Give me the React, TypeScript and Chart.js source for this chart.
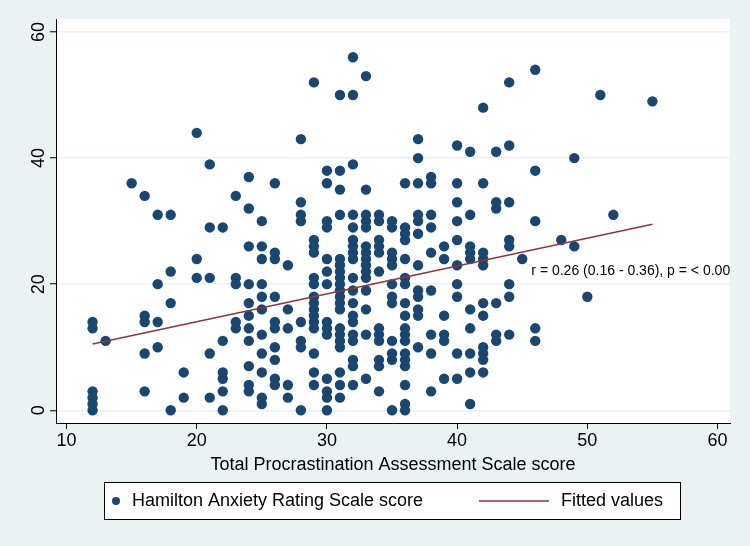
import React, { useEffect, useRef } from "react";
import { Chart, registerables } from "chart.js";

Chart.register(...registerables);

// Total Procrastination Assessment Scale score (x columns)
const pasScores = [
  12, 13, 15, 16, 17, 18, 19, 20, 21, 22, 23, 24, 25, 26, 27, 28, 29, 30, 31, 32,
  33, 34, 35, 36, 37, 38, 39, 40, 41, 42, 43, 44, 45, 46, 48, 49, 50, 51, 52, 55,
];

// Hamilton Anxiety Rating Scale scores for each PAS column
const hamaByPas = [
  [14, 13, 3, 2, 1, 0],
  [11],
  [36],
  [34, 15, 14, 9, 3],
  [31, 20, 14, 10],
  [31, 22, 17, 0],
  [6, 2],
  [44, 24, 21],
  [39, 29, 21, 9, 2],
  [29, 11, 6, 5, 3, 0],
  [34, 21, 20, 14, 13],
  [37, 32, 26, 20, 17, 15, 13, 11, 7, 4, 3],
  [30, 26, 24, 20, 18, 16, 12, 9, 6, 2, 1],
  [36, 25, 24, 18, 14, 13, 10, 8, 5, 4],
  [23, 16, 13, 4, 2],
  [43, 33, 31, 30, 14, 11, 10, 0],
  [52, 27, 26, 25, 21, 20, 18, 17, 16, 15, 14, 13, 9, 6, 4],
  [38, 36, 30, 29, 24, 22, 20, 14, 13, 12, 5, 3, 2, 0],
  [50, 38, 35, 31, 24, 23, 22, 21, 20, 19, 18, 17, 16, 13, 12, 11, 10, 6, 4, 2],
  [56, 50, 39, 31, 29, 27, 26, 25, 24, 21, 19, 17, 15, 14, 12, 11, 8, 7, 4],
  [53, 35, 31, 30, 29, 26, 25, 24, 23, 22, 21, 19, 16, 12, 5],
  [31, 30, 27, 26, 25, 22, 13, 12, 11, 8, 7, 3],
  [30, 29, 25, 24, 23, 20, 18, 17, 11, 9, 8, 0],
  [36, 29, 28, 27, 24, 21, 20, 17, 15, 13, 12, 11, 9, 8, 7, 4, 1, 0],
  [43, 40, 36, 31, 30, 28, 23, 19, 18, 16, 15, 10],
  [37, 36, 31, 29, 25, 19, 12, 9, 3],
  [26, 24, 15, 12, 11, 5],
  [42, 36, 33, 30, 27, 23, 20, 18, 9, 5],
  [41, 31, 26, 25, 24, 16, 13, 9, 6, 1],
  [48, 36, 25, 24, 23, 17, 15, 10, 9, 8, 6],
  [41, 33, 32, 17, 12, 11],
  [52, 42, 33, 27, 26, 20, 18, 12],
  [24],
  [54, 38, 30, 13, 11],
  [27],
  [40, 26],
  [18],
  [50],
  [31],
  [49],
];

// Fitted values (linear fit end points)
const fitX = [12, 55];
const fitY = [10.5, 29.5];

const xTicks = [10, 20, 30, 40, 50, 60];
const yTicks = [0, 20, 40, 60];

const xTitle = "Total Procrastination Assessment Scale score";
const scatterLabel = "Hamilton Anxiety Rating Scale score";
const fitLabel = "Fitted values";
const annotationText = "r = 0.26 (0.16 - 0.36), p = < 0.00";
const annotationAt = { x: 45.7, y: 22.05 };

const NAVY = "#1A476F";
const MAROON = "#90353B";
const BG = "#EAF2F3";
const FONT = "'Liberation Sans', Arial, Helvetica, sans-serif";

export default function App() {
  const ref = useRef<HTMLCanvasElement>(null);

  useEffect(() => {
    document.body.style.margin = "0";
    const canvas = ref.current;
    if (!canvas) return;

    const points: { x: number; y: number }[] = [];
    pasScores.forEach((x, i) => {
      hamaByPas[i].forEach((y) => points.push({ x, y }));
    });
    const fitPoints = fitX.map((x, i) => ({ x, y: fitY[i] }));

    const stataPlugin = {
      id: "stata",
      beforeDraw(chart: any) {
        const { ctx, chartArea } = chart;
        ctx.save();
        ctx.fillStyle = BG;
        ctx.fillRect(0, 0, chart.width, chart.height);
        ctx.fillStyle = "#FFFFFF";
        ctx.fillRect(
          chartArea.left,
          chartArea.top,
          chartArea.right - chartArea.left,
          chartArea.bottom - chartArea.top
        );
        ctx.restore();
      },
      afterDraw(chart: any) {
        const { ctx, chartArea } = chart;
        const ys = chart.scales.y;
        const xs = chart.scales.x;
        // rotated y tick labels
        ctx.save();
        ctx.fillStyle = "#000";
        ctx.font = `18px ${FONT}`;
        ctx.textAlign = "center";
        ctx.textBaseline = "middle";
        ys.ticks.forEach((t: any) => {
          const py = ys.getPixelForValue(t.value);
          ctx.save();
          ctx.translate(39, py);
          ctx.rotate(-Math.PI / 2);
          ctx.fillText(String(t.value), 0, 0);
          ctx.restore();
        });
        ctx.restore();

        // annotation text (clipped to plot region)
        ctx.save();
        ctx.beginPath();
        ctx.rect(
          chartArea.left,
          chartArea.top,
          chartArea.right - chartArea.left,
          chartArea.bottom - chartArea.top
        );
        ctx.clip();
        ctx.fillStyle = "#000";
        ctx.font = `14px ${FONT}`;
        ctx.textAlign = "left";
        ctx.textBaseline = "middle";
        ctx.fillText(
          annotationText,
          xs.getPixelForValue(annotationAt.x),
          ys.getPixelForValue(annotationAt.y)
        );
        ctx.restore();

        // legend box
        ctx.save();
        const lx = 104,
          ly = 482,
          lw = 576,
          lh = 37;
        ctx.fillStyle = "#FFFFFF";
        ctx.fillRect(lx, ly, lw, lh);
        ctx.strokeStyle = "#000";
        ctx.lineWidth = 1;
        ctx.strokeRect(lx + 0.5, ly + 0.5, lw, lh);
        const cy = ly + lh / 2 + 0.5;
        ctx.fillStyle = NAVY;
        ctx.beginPath();
        ctx.arc(116, cy, 4, 0, Math.PI * 2);
        ctx.fill();
        ctx.fillStyle = "#000";
        ctx.font = `18px ${FONT}`;
        ctx.textAlign = "left";
        ctx.textBaseline = "middle";
        ctx.fillText(scatterLabel, 132, cy);
        ctx.strokeStyle = MAROON;
        ctx.lineWidth = 1.5;
        ctx.beginPath();
        ctx.moveTo(479, cy);
        ctx.lineTo(549, cy);
        ctx.stroke();
        ctx.fillText(fitLabel, 561, cy);
        ctx.restore();
      },
    };

    const chart = new Chart(canvas, {
      type: "scatter",
      data: {
        datasets: [
          {
            type: "line",
            label: fitLabel,
            data: fitPoints,
            borderColor: MAROON,
            borderWidth: 1.5,
            pointRadius: 0,
            fill: false,
            order: 0,
          } as any,
          {
            type: "scatter",
            label: scatterLabel,
            data: points,
            backgroundColor: NAVY,
            borderColor: NAVY,
            borderWidth: 0,
            pointRadius: 5.2,
            pointHoverRadius: 5.2,
            order: 1,
          },
        ],
      },
      options: {
        responsive: false,
        animation: false,
        devicePixelRatio: 1,
        layout: { padding: { left: 0, right: 20, top: 19, bottom: 70 } },
        plugins: {
          legend: { display: false },
          tooltip: { enabled: false },
        },
        scales: {
          x: {
            type: "linear",
            min: 9.19,
            max: 60.96,
            afterBuildTicks: (axis: any) => {
              axis.ticks = xTicks.map((v) => ({ value: v }));
            },
            afterFit: (axis: any) => {
              axis.height = 53;
            },
            ticks: {
              color: "#000",
              padding: 1,
              font: { family: FONT, size: 18 },
              maxRotation: 0,
            },
            grid: {
              drawOnChartArea: false,
              tickLength: 6,
              tickColor: "#000",
              tickWidth: 1,
            },
            border: { color: "#000", width: 1 },
            title: {
              display: true,
              text: xTitle,
              color: "#000",
              font: { family: FONT, size: 18 },
              padding: { top: 0, bottom: 0 },
            },
          },
          y: {
            type: "linear",
            min: -2.02,
            max: 62.06,
            afterBuildTicks: (axis: any) => {
              axis.ticks = yTicks.map((v) => ({ value: v }));
            },
            afterFit: (axis: any) => {
              axis.width = 56;
            },
            ticks: { display: false },
            grid: {
              color: BG,
              lineWidth: 1.5,
              tickLength: 6,
              tickColor: "#000",
              tickWidth: 1,
            },
            border: { color: "#000", width: 1 },
          },
        },
      },
      plugins: [stataPlugin],
    });

    return () => chart.destroy();
  }, []);

  return (
    <div style={{ width: 750, height: 546, background: BG }}>
      <canvas
        ref={ref}
        width={750}
        height={546}
        style={{ display: "block", width: 750, height: 546 }}
      />
    </div>
  );
}
